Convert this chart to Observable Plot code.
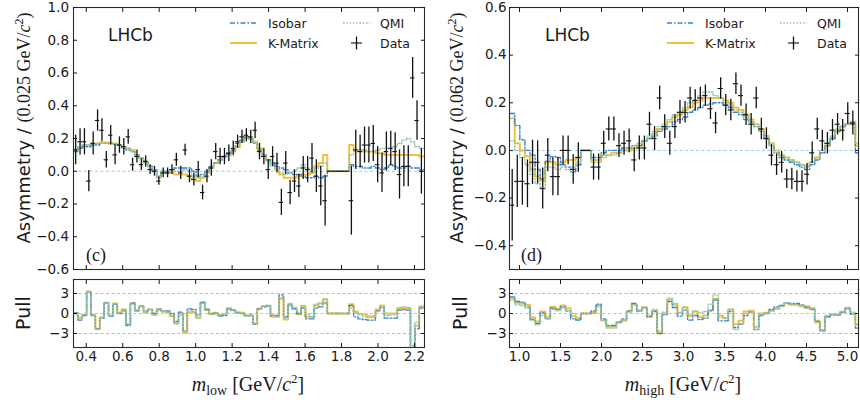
<!DOCTYPE html>
<html><head><meta charset="utf-8">
<script src="https://cdn.jsdelivr.net/npm/d3@7"></script>
<script src="https://cdn.jsdelivr.net/npm/@observablehq/plot@0.6"></script>
<style>
body{margin:0;background:#fff;}
#wrap{position:relative;width:860px;height:400px;overflow:hidden;background:#fff;}
.p{position:absolute;width:430px;}
.p svg{overflow:visible;}
</style></head><body>
<div id="wrap">
<div class="p" id="bl" style="left:0;top:272px"></div>
<div class="p" id="br" style="left:430px;top:272px"></div>
<div class="p" id="tl" style="left:0;top:0"></div>
<div class="p" id="tr" style="left:430px;top:0"></div>
<svg id="ov" width="860" height="400" style="position:absolute;left:0;top:0;pointer-events:none"></svg>
</div>
<script>
// ---------- m_low panel (c) ----------
const lowStart = 0.33, lowWidth = 0.024;
const lowXDomain = [0.33, 2.255];
const lowYDomain = [-0.6, 1.0];
const lowXTicks = [0.4, 0.6, 0.8, 1.0, 1.2, 1.4, 1.6, 1.8, 2.0, 2.2];
const lowYTicks = [-0.6, -0.4, -0.2, 0.0, 0.2, 0.4, 0.6, 0.8, 1.0];
const lowData = [0.13,0.18,0.18,-0.06,0.17,0.31,0.25,0.07,0.22,0.10,
 0.16,0.15,0.21,0.04,0.09,0.04,0.06,0.01,0.00,-0.06,
 -0.01,-0.01,0.01,0.07,-0.01,0.13,-0.03,-0.05,0.01,-0.13,
 -0.03,0.02,0.12,0.09,0.09,0.11,0.14,0.18,0.21,0.22,
 0.21,0.25,0.12,0.09,0.01,0.09,0.05,-0.19,0.05,-0.13,
 -0.06,-0.09,0.02,0.01,0.08,-0.03,-0.09,-0.18,
 0,0,0,0,0,
 -0.18,0.13,0.12,0.16,0.16,0.17,0.04,-0.01,0.12,0.14,
 0.12,-0.02,0.03,0.03,0.57,0.31,0.00];
const lowErr = [0.09,0.08,0.08,0.065,0.07,0.065,0.07,0.05,0.06,0.06,
 0.05,0.05,0.045,0.04,0.04,0.035,0.035,0.03,0.03,0.025,
 0.03,0.03,0.03,0.04,0.04,0.035,0.04,0.04,0.05,0.045,
 0.04,0.05,0.05,0.05,0.05,0.05,0.045,0.04,0.04,0.04,
 0.04,0.05,0.05,0.05,0.06,0.06,0.06,0.08,0.07,0.075,
 0.07,0.07,0.07,0.08,0.09,0.10,0.12,0.155,
 0,0,0,0,0,
 0.21,0.12,0.10,0.11,0.11,0.11,0.11,0.12,0.12,0.105,
 0.115,0.15,0.125,0.125,0.125,0.12,0.14];
const lowKMatrix = [0.13,0.15,0.16,0.16,0.17,0.17,0.175,0.175,0.17,0.17,
 0.16,0.15,0.14,0.13,0.10,0.08,0.06,0.03,0.00,-0.04,
 -0.01,-0.01,-0.01,-0.02,-0.02,-0.02,-0.03,-0.05,-0.06,-0.04,
 -0.01,0.02,0.05,0.07,0.09,0.10,0.12,0.15,0.18,0.21,
 0.20,0.18,0.14,0.10,0.07,0.04,0.01,-0.02,-0.04,-0.04,
 -0.04,-0.03,-0.02,-0.02,-0.01,0.03,0.05,0.10,
 0,0,0,0,0,
 0.16,0.13,0.13,0.12,0.12,0.12,0.11,0.11,0.10,0.10,
 0.10,0.10,0.10,0.10,0.10,0.10,0.09];
const lowIsobar = [0.12,0.14,0.15,0.15,0.16,0.16,0.17,0.17,0.17,0.165,
 0.16,0.14,0.13,0.12,0.10,0.08,0.06,0.03,0.01,-0.03,
 0.00,0.00,0.01,0.02,0.02,0.02,0.02,0.00,-0.03,-0.02,
 0.00,0.03,0.05,0.07,0.09,0.11,0.13,0.17,0.19,0.21,
 0.20,0.17,0.13,0.10,0.07,0.05,0.03,0.02,0.01,-0.01,
 -0.02,-0.02,-0.03,-0.04,-0.04,-0.03,-0.04,-0.03,
 0,0,0,0,0,
 0.04,0.03,0.03,0.02,0.02,0.03,0.02,0.01,0.02,0.04,
 0.03,0.02,0.02,0.03,0.02,0.02,0.01];
const lowQMI = [0.13,0.15,0.16,0.16,0.17,0.17,0.17,0.17,0.17,0.17,
 0.16,0.15,0.14,0.12,0.10,0.08,0.05,0.03,0.00,-0.03,
 0.00,-0.01,0.00,0.00,0.00,0.01,0.00,-0.03,-0.04,-0.03,
 -0.01,0.02,0.05,0.07,0.09,0.10,0.12,0.15,0.18,0.20,
 0.20,0.17,0.13,0.10,0.06,0.03,0.01,-0.01,-0.02,-0.01,
 0.00,0.02,0.04,0.02,0.00,0.02,0.03,0.05,
 0,0,0,0,0,
 0.10,0.12,0.12,0.13,0.12,0.12,0.13,0.14,0.14,0.14,
 0.15,0.17,0.19,0.20,0.18,0.15,0.14];
const lowPullKMatrix = [0.0,-0.6,-0.2,3.3,-0.3,-2.3,-0.6,1.6,-0.3,1.5,
 0.1,0.6,-1.6,1.5,0.5,1.1,0.2,0.6,-0.2,0.5,
 0.3,0.2,-0.4,-1.5,-0.2,-2.9,0.2,0.1,-0.6,1.6,
 0.6,-0.1,0.1,-0.2,-0.2,0.8,0.5,0.2,0.1,-0.3,
 -0.3,-1.5,0.7,1.1,1.1,-0.5,-0.5,2.2,-0.9,1.2,
 0.7,-0.1,1.0,-0.5,-0.5,1.2,1.5,2.1,
 0,0,0,0,0,
 1.4,0.3,-0.1,-0.1,-0.4,-0.4,0.6,1.2,0.0,0.0,
 0.0,0.7,0.8,0.8,-5.5,-1.8,1.0];
const lowPullIsobar = [0.1,-1.0,-0.3,3.2,-0.2,-2.3,-0.7,1.6,-0.4,1.4,
 0.0,0.4,-1.8,1.6,0.4,1.1,0.4,0.6,0.0,0.7,
 0.4,0.4,0.0,-1.2,0.2,-2.6,0.7,0.6,-0.2,1.7,
 0.6,0.0,0.0,-0.4,-0.3,0.6,0.5,0.1,0.0,-0.3,
 -0.3,-1.6,0.7,1.0,1.2,-0.3,-0.3,2.8,-0.5,1.4,
 0.7,0.0,0.8,-0.8,-0.8,0.8,1.0,1.6,
 0,0,0,0,0,
 1.2,-0.5,-0.8,-0.9,-1.0,-1.0,0.4,0.9,-0.7,-0.7,
 -0.7,0.5,0.6,0.5,-5.5,-2.3,0.8];
const lowPullQMI = [0.0,-0.7,-0.2,3.3,-0.3,-2.4,-0.6,1.6,-0.3,1.5,
 0.1,0.6,-1.6,1.4,0.5,1.1,0.1,0.6,-0.2,0.7,
 0.3,0.2,-0.3,-1.5,0.0,-2.7,0.4,0.3,-0.7,1.5,
 0.5,-0.1,0.1,-0.2,-0.2,0.8,0.5,0.1,0.0,-0.4,
 -0.3,-1.5,0.6,1.1,1.2,-0.2,-0.4,2.4,-0.7,1.5,
 0.9,0.2,1.2,-0.1,-0.5,1.4,1.6,2.2,
 0,0,0,0,0,
 0.8,0.1,-0.1,-0.4,-0.6,-0.6,0.3,1.0,-0.3,-0.2,
 -0.2,0.9,1.0,0.9,-4.8,-1.3,1.1];

// ---------- m_high panel (d) ----------
const highStart = 0.88, highWidth = 0.062;
const highXDomain = [0.878, 5.134];
const highYDomain = [-0.5, 0.6];
const highXTicks = [1.0, 1.5, 2.0, 2.5, 3.0, 3.5, 4.0, 4.5, 5.0];
const highYTicks = [-0.4, -0.2, 0.0, 0.2, 0.4, 0.6];
const highData = [-0.23,-0.13,-0.13,-0.14,-0.05,-0.05,-0.16,-0.02,-0.11,-0.11,
 0.00,0.00,-0.08,-0.03,0,0,-0.07,-0.07,0.03,0.09,
 0.09,0.02,0.03,0.04,-0.04,0.01,0.01,0.11,0.05,0.22,
 0.10,0.03,0.10,0.16,0.16,0.22,0.21,0.22,0.23,0.175,
 0.115,0.26,0.19,0.17,0.28,0.23,0.15,0.11,0.22,0.09,
 0.05,-0.02,-0.06,-0.05,-0.12,-0.12,-0.13,-0.13,-0.10,-0.01,
 0.09,0.04,0.03,0.085,0.11,0.085,0.155,0.115,null];
const highErr = [0.15,0.11,0.10,0.10,0.093,0.09,0.086,0.07,0.08,0.08,
 0.06,0.06,0.062,0.062,0,0,0.055,0.055,0.05,0.05,
 0.05,0.05,0.05,0.05,0.05,0.05,0.05,0.05,0.05,0.05,
 0.05,0.05,0.05,0.05,0.045,0.045,0.045,0.045,0.045,0.045,
 0.045,0.045,0.045,0.045,0.045,0.045,0.045,0.045,0.045,0.045,
 0.045,0.045,0.045,0.045,0.04,0.045,0.045,0.045,0.045,0.045,
 0.045,0.045,0.045,0.045,0.045,0.045,0.045,0.05,0];
const highKMatrix = [0.135,0.03,0.00,-0.025,-0.08,-0.11,-0.13,-0.05,-0.05,-0.06,
 -0.05,-0.04,-0.04,-0.03,0,0,-0.04,-0.04,-0.02,-0.02,
 -0.01,-0.01,0.00,0.00,0.01,0.02,0.04,0.05,0.07,0.09,
 0.10,0.12,0.14,0.15,0.17,0.18,0.20,0.21,0.22,0.22,
 0.22,0.22,0.21,0.20,0.18,0.17,0.15,0.13,0.11,0.09,
 0.06,0.03,0.00,-0.02,-0.03,-0.04,-0.05,-0.06,-0.065,-0.05,
 -0.03,-0.01,0.02,0.05,0.08,0.10,0.11,0.12,0.02];
const highIsobar = [0.155,0.105,0.045,0.00,-0.02,-0.08,-0.12,-0.045,-0.025,-0.03,
 -0.06,-0.07,-0.09,-0.06,0,0,-0.03,-0.03,-0.01,0.00,
 0.00,0.00,0.01,0.01,0.02,0.02,0.04,0.05,0.06,0.08,
 0.09,0.10,0.12,0.13,0.14,0.16,0.17,0.18,0.19,0.195,
 0.20,0.20,0.19,0.18,0.16,0.15,0.13,0.12,0.10,0.08,
 0.05,0.02,-0.01,-0.03,-0.04,-0.05,-0.06,-0.07,-0.08,-0.06,
 -0.04,-0.01,0.02,0.05,0.08,0.10,0.11,0.11,-0.01];
const highQMI = [0.04,0.00,-0.03,-0.06,-0.10,-0.14,-0.16,-0.07,-0.07,-0.08,
 -0.07,-0.08,-0.07,-0.05,0,0,-0.05,-0.05,-0.03,-0.02,
 -0.02,-0.01,0.00,0.01,0.02,0.03,0.04,0.06,0.08,0.10,
 0.11,0.13,0.15,0.16,0.18,0.20,0.21,0.23,0.245,0.245,
 0.23,0.22,0.20,0.19,0.17,0.16,0.14,0.12,0.10,0.08,
 0.05,0.02,-0.01,-0.02,-0.03,-0.04,-0.05,-0.06,-0.07,-0.05,
 -0.03,0.00,0.03,0.06,0.09,0.10,0.11,0.12,0.03];
const highPullKMatrix = [2.3,1.6,1.5,1.3,-0.6,-1.2,0.3,-0.5,1.0,0.7,
 1.2,0.8,-0.4,-0.8,0,0,0.2,1.2,-1.0,-2.0,
 -2.0,-1.3,-1.0,0.3,1.3,0.4,0.9,-0.5,0.4,-2.9,
 0.0,2.1,1.3,0.1,0.9,-0.4,0.3,-0.5,-0.3,0.5,
 2.2,-0.3,-0.7,0.6,-1.6,-1.1,0.3,0.4,-2.0,0.0,
 0.1,0.4,0.7,1.1,1.5,1.3,1.3,1.1,1.1,0.8,
 -1.1,-2.5,-0.5,-0.2,-0.2,0.2,0.8,0.0,-1.7];
const highPullIsobar = [2.5,1.8,1.7,1.0,-0.9,-1.5,0.1,-0.8,0.8,0.6,
 1.0,0.4,-0.8,-1.0,0,0,0.4,1.4,-0.8,-1.8,
 -1.8,-1.3,-0.8,0.4,1.5,0.4,0.9,-0.5,0.3,-3.0,
 -0.2,1.8,0.9,-0.4,0.5,-1.0,-0.3,-0.9,-0.7,0.4,
 2.0,-1.1,-1.1,0.3,-2.1,-1.6,-0.3,0.2,-2.4,-0.3,
 0.0,0.6,1.0,1.2,1.6,1.5,1.5,1.3,0.9,0.6,
 -1.2,-2.6,-0.5,-0.2,-0.2,0.2,0.7,-0.1,-2.2];
const highPullQMI = [2.0,1.3,1.2,0.8,-1.0,-1.7,-0.3,-0.8,0.6,0.4,
 0.8,0.4,0.0,-0.6,0,0,0.0,1.0,-1.1,-2.2,
 -2.2,-1.4,-1.1,0.2,1.3,0.5,0.9,-0.3,0.6,-2.6,
 0.2,2.3,1.5,0.1,1.0,-0.2,0.4,0.1,0.3,1.4,
 2.8,-0.6,-0.7,0.6,-2.4,-1.5,0.0,0.2,-2.4,-0.2,
 0.0,0.4,0.7,1.1,1.6,1.4,1.3,1.2,0.8,0.7,
 -1.4,-2.5,-0.3,-0.1,-0.1,0.3,0.9,0.2,-1.6];

const pullDomain = [-5.1, 5.1];
const pullTicks = [-3, 0, 3];
const pullBands = [-3, 3];

const C_ISO = "#3b84cc", C_KM = "#f2c23a", C_QMI = "#93c6ae", C_DATA = "#111";
const C_ZERO = "#9ccbe8", C_BAND = "#f4a0a0", C_FRAME = "#2a2a2a";

// ---------- helpers ----------
function steps(vals, start, width) {
  const pts = [];
  vals.forEach((v, i) => { pts.push({x: start + i * width, y: v}, {x: start + (i + 1) * width, y: v}); });
  return pts;
}
function dataPoints(vals, errs, start, width) {
  return vals.map((v, i) => ({xc: start + (i + 0.5) * width, x0: start + i * width, x1: start + (i + 1) * width,
    v, lo: v == null ? null : v - errs[i], hi: v == null ? null : v + errs[i]})).filter(d => d.v != null);
}
const blank = () => "";
const baseStyle = {fontFamily: "DejaVu Sans", fontSize: "13.5px", color: "#1a1a1a", background: "transparent", overflow: "visible"};

function modelMarks(km, iso, qmi, start, width) {
  return [
    Plot.line(steps(km, start, width), {x: "x", y: "y", stroke: C_KM, strokeWidth: 2, clip: true}),
    Plot.line(steps(iso, start, width), {x: "x", y: "y", stroke: C_ISO, strokeWidth: 1.4, strokeDasharray: "5,2,1.5,2", clip: true}),
    Plot.line(steps(qmi, start, width), {x: "x", y: "y", stroke: C_QMI, strokeWidth: 1.4, strokeDasharray: "1.5,1.8", clip: true})
  ];
}
function frameAxes(xTicks, yTicks, yFmt, xFmt, yPad, xLabels) {
  return [
    Plot.frame({stroke: C_FRAME, strokeWidth: 1.1}),
    Plot.axisY({ticks: yTicks, anchor: "left", tickSize: -4, tickPadding: yPad, tickFormat: yFmt, label: null}),
    Plot.axisY({ticks: yTicks, anchor: "right", tickSize: -4, tickFormat: blank, label: null}),
    Plot.axisX({ticks: xTicks, anchor: "bottom", tickSize: -4, tickPadding: 8, tickFormat: xLabels ? xFmt : blank, label: null}),
    Plot.axisX({ticks: xTicks, anchor: "top", tickSize: -4, tickFormat: blank, label: null})
  ];
}
function topPanel(cfg) {
  const pts = dataPoints(cfg.data, cfg.err, cfg.start, cfg.width);
  return Plot.plot({
    width: 430, height: 272, marginLeft: cfg.ml, marginRight: cfg.mr, marginTop: 7, marginBottom: 3,
    x: {domain: cfg.xDomain, label: null}, y: {domain: cfg.yDomain, label: null},
    style: baseStyle,
    marks: [
      Plot.ruleY([0], {stroke: C_ZERO, strokeDasharray: "3,2.5", strokeWidth: 1}),
      ...modelMarks(cfg.km, cfg.iso, cfg.qmi, cfg.start, cfg.width),
      Plot.ruleX(pts, {x: "xc", y1: "lo", y2: "hi", stroke: C_DATA, strokeWidth: 1.3, clip: true}),
      Plot.ruleY(pts, {y: "v", x1: "x0", x2: "x1", stroke: C_DATA, strokeWidth: 1.1, clip: true}),
      ...frameAxes(cfg.xTicks, cfg.yTicks, d3.format(".1f"), null, cfg.yPad, false)
    ]
  });
}
function pullPanel(cfg) {
  return Plot.plot({
    width: 430, height: 128, marginLeft: cfg.ml, marginRight: cfg.mr, marginTop: 7, marginBottom: 53,
    x: {domain: cfg.xDomain, label: null}, y: {domain: pullDomain, label: null},
    style: baseStyle,
    marks: [
      Plot.ruleY([0], {stroke: C_ZERO, strokeDasharray: "3,2.5", strokeWidth: 1}),
      Plot.ruleY(pullBands, {stroke: C_BAND, strokeDasharray: "3,2.5", strokeWidth: 1}),
      ...modelMarks(cfg.km, cfg.iso, cfg.qmi, cfg.start, cfg.width),
      ...frameAxes(cfg.xTicks, pullTicks, d3.format("d"), cfg.xFmt, cfg.yPad, true)
    ]
  });
}

document.getElementById("tl").append(topPanel({
  data: lowData, err: lowErr, km: lowKMatrix, iso: lowIsobar, qmi: lowQMI, start: lowStart, width: lowWidth,
  xDomain: lowXDomain, yDomain: lowYDomain, xTicks: lowXTicks, yTicks: lowYTicks, ml: 73, mr: 6, yPad: 8.5
}));
document.getElementById("bl").append(pullPanel({
  km: lowPullKMatrix, iso: lowPullIsobar, qmi: lowPullQMI, start: lowStart, width: lowWidth,
  xDomain: lowXDomain, xTicks: lowXTicks, xFmt: d3.format(".1f"), ml: 73, mr: 6, yPad: 8.5
}));
document.getElementById("tr").append(topPanel({
  data: highData, err: highErr, km: highKMatrix, iso: highIsobar, qmi: highQMI, start: highStart, width: highWidth,
  xDomain: highXDomain, yDomain: highYDomain, xTicks: highXTicks, yTicks: highYTicks, ml: 79, mr: 2, yPad: 7
}));
document.getElementById("br").append(pullPanel({
  km: highPullKMatrix, iso: highPullIsobar, qmi: highPullQMI, start: highStart, width: highWidth,
  xDomain: highXDomain, xTicks: highXTicks, xFmt: d3.format(".1f"), ml: 79, mr: 2, yPad: 7
}));

// ---------- overlay texts & legends ----------
const ov = d3.select("#ov");
const SANS = "DejaVu Sans", SERIF = "Liberation Serif";

function addText(x, y, parts, opts = {}) {
  const t = ov.append("text").attr("x", x).attr("y", y)
    .attr("text-anchor", opts.anchor || "start").attr("fill", "#1a1a1a")
    .attr("font-size", opts.size || 16);
  if (opts.rotate) t.attr("transform", `rotate(${opts.rotate},${x},${y})`);
  parts.forEach(p => {
    const s = t.append("tspan").text(p.t).attr("font-family", p.f || SANS);
    if (p.i) s.attr("font-style", "italic");
    if (p.s) s.attr("font-size", p.s);
    if (p.dy) s.attr("dy", p.dy);
  });
  return t;
}
function yLabel(x, y, bin) {
  addText(x, y, [
    {t: "Asymmetry / ", f: SANS},
    {t: "(" + bin + " GeV/", f: SERIF},
    {t: "c", f: SERIF, i: true},
    {t: "2", f: SERIF, s: 12, dy: -7},
    {t: ")", f: SERIF, dy: 7}
  ], {anchor: "middle", rotate: -90, size: 18});
}
function xLabel(x, y, sub) {
  addText(x, y, [
    {t: "m", f: SERIF, i: true},
    {t: sub, f: SERIF, s: 14, dy: 4},
    {t: " [GeV/", f: SERIF, dy: -4},
    {t: "c", f: SERIF, i: true},
    {t: "2", f: SERIF, s: 13, dy: -8},
    {t: "]", f: SERIF, dy: 8}
  ], {anchor: "middle", size: 20});
}
yLabel(30, 128, "0.025");
yLabel(463, 128, "0.062");
addText(30, 313, [{t: "Pull"}], {anchor: "middle", rotate: -90, size: 19});
addText(467, 313, [{t: "Pull"}], {anchor: "middle", rotate: -90, size: 19});
xLabel(248, 391, "low");
xLabel(683, 391, "high");
addText(108, 41, [{t: "LHCb"}], {size: 17});
addText(545, 41, [{t: "LHCb"}], {size: 17});
addText(86, 261, [{t: "(c)", f: SERIF}], {size: 18});
addText(521, 261, [{t: "(d)", f: SERIF}], {size: 18});

const legendItems = [
  {label: "Isobar", color: C_ISO, dash: "5,2,1.5,2", w: 1.4, col: 0, row: 0},
  {label: "QMI", color: C_QMI, dash: "1.5,1.8", w: 1.4, col: 1, row: 0},
  {label: "K-Matrix", color: C_KM, dash: null, w: 2, col: 0, row: 1},
  {label: "Data", color: C_DATA, dash: null, w: 1.3, col: 1, row: 1, cross: true}
];
function legend(ox) {
  const colX = [0, 113], rowY = [23, 43];
  legendItems.forEach(it => {
    const sx = ox + colX[it.col], y = rowY[it.row];
    if (it.cross) {
      ov.append("line").attr("x1", sx + 13.5).attr("x2", sx + 13.5).attr("y1", y - 6.5).attr("y2", y + 6.5)
        .attr("stroke", it.color).attr("stroke-width", 1.3);
      ov.append("line").attr("x1", sx + 8).attr("x2", sx + 19).attr("y1", y).attr("y2", y)
        .attr("stroke", it.color).attr("stroke-width", 1.1);
    } else {
      const l = ov.append("line").attr("x1", sx).attr("x2", sx + 27).attr("y1", y).attr("y2", y)
        .attr("stroke", it.color).attr("stroke-width", it.w);
      if (it.dash) l.attr("stroke-dasharray", it.dash);
    }
    ov.append("text").attr("x", sx + (it.col === 0 ? 38 : 37)).attr("y", y + 4.5)
      .attr("font-family", SANS).attr("font-size", 12.5).attr("fill", "#1a1a1a").text(it.label);
  });
}
legend(230);
legend(667);
</script>
</body></html>
